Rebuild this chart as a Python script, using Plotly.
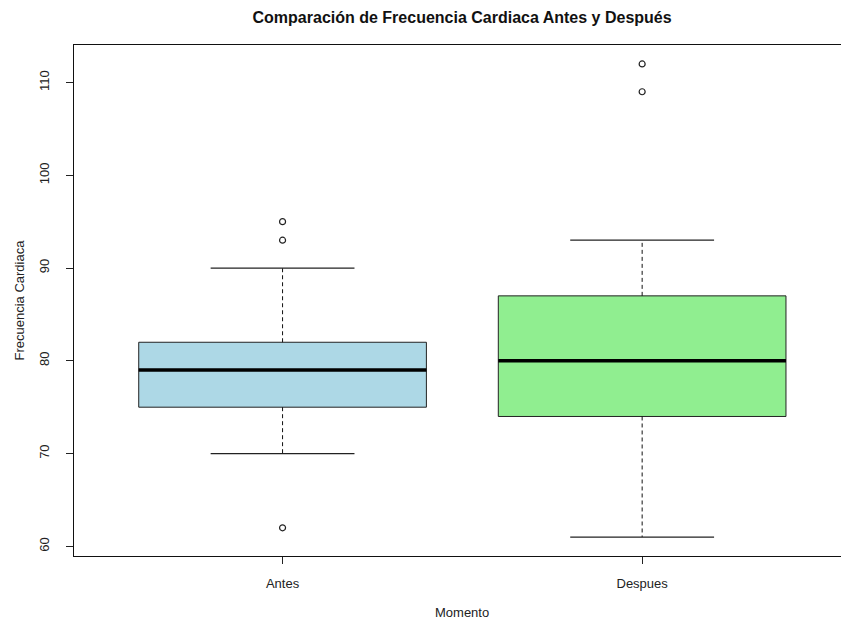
import plotly.graph_objects as go

# Summary statistics of heart rate per moment
categories = ["Antes", "Despues"]
positions = [1, 2]
q1 = [75, 74]
medians = [79, 80]
q3 = [82, 87]
whisker_low = [70, 61]
whisker_high = [90, 93]
outliers = [[95, 93, 62], [112, 109]]
fill_colors = ["#ADD8E6", "#90EE90"]

BOX_WIDTH = 0.8
CAP_HALF = 0.2
FONT = "Liberation Sans, Arial, sans-serif"

fig = go.Figure()

for pos, lo, a, m, b, hi, pts, col in zip(positions, whisker_low, q1, medians, q3,
                                          whisker_high, outliers, fill_colors):
    # box body (Q1..Q3)
    fig.add_trace(go.Box(
        x=[pos], q1=[a], median=[m], q3=[b], lowerfence=[a], upperfence=[b],
        width=BOX_WIDTH, whiskerwidth=0, fillcolor=col,
        line=dict(color="#222222", width=1), boxpoints=False,
        hoverinfo="skip", showlegend=False,
    ))
    # dashed whiskers
    fig.add_trace(go.Scatter(
        x=[pos, pos, None, pos, pos], y=[b, hi, None, a, lo],
        mode="lines", line=dict(color="#111111", width=1, dash="4px,3px"),
        hoverinfo="skip", showlegend=False,
    ))
    # staples
    fig.add_trace(go.Scatter(
        x=[pos - CAP_HALF, pos + CAP_HALF, None, pos - CAP_HALF, pos + CAP_HALF],
        y=[hi, hi, None, lo, lo],
        mode="lines", line=dict(color="#222222", width=1.2),
        hoverinfo="skip", showlegend=False,
    ))
    # thick median
    fig.add_trace(go.Scatter(
        x=[pos - BOX_WIDTH / 2, pos + BOX_WIDTH / 2], y=[m, m],
        mode="lines", line=dict(color="black", width=3.5),
        hoverinfo="skip", showlegend=False,
    ))
    # outliers
    fig.add_trace(go.Scatter(
        x=[pos] * len(pts), y=pts, mode="markers",
        marker=dict(symbol="circle-open", size=6, color="#222222",
                    line=dict(width=1.2, color="#222222")),
        hoverinfo="skip", showlegend=False,
    ))

fig.update_layout(
    width=841, height=620,
    margin=dict(l=74, r=0, t=45, b=64),
    plot_bgcolor="white", paper_bgcolor="white",
    boxmode="overlay",
    font=dict(family=FONT, size=13, color="#222222"),
    title=dict(
        text="<b>Comparación de Frecuencia Cardiaca Antes y Después</b>",
        x=0.506, xref="paper", xanchor="center",
        y=1 - 17 / 620, yref="container", yanchor="middle",
        font=dict(family=FONT, size=16, color="#111111"),
    ),
    xaxis=dict(
        range=[0.42, 2.553], tickmode="array", tickvals=positions, ticktext=categories,
        ticks="outside", ticklen=7, tickcolor="#222222",
        showline=True, linecolor="#111111", linewidth=1, mirror=True,
        showgrid=False, zeroline=False, ticklabelstandoff=8,
    ),
    yaxis=dict(
        range=[58.96, 114.04], tickmode="array", tickvals=[60, 70, 80, 90, 100, 110],
        ticks="outside", ticklen=7, tickcolor="#222222", tickangle=-90,
        showline=True, linecolor="#111111", linewidth=1,
        showgrid=False, zeroline=False, ticklabelstandoff=12,
    ),
    annotations=[
        dict(text="Momento", xref="paper", yref="paper", x=0.506, y=0,
             yshift=-56, xanchor="center", yanchor="middle", showarrow=False,
             font=dict(family=FONT, size=13, color="#222222")),
        dict(text="Frecuencia Cardiaca", xref="paper", yref="paper", x=0, y=0.5,
             xshift=-55, textangle=-90, xanchor="center", yanchor="middle",
             showarrow=False, font=dict(family=FONT, size=13, color="#222222")),
    ],
)

fig.write_html("out.html")
